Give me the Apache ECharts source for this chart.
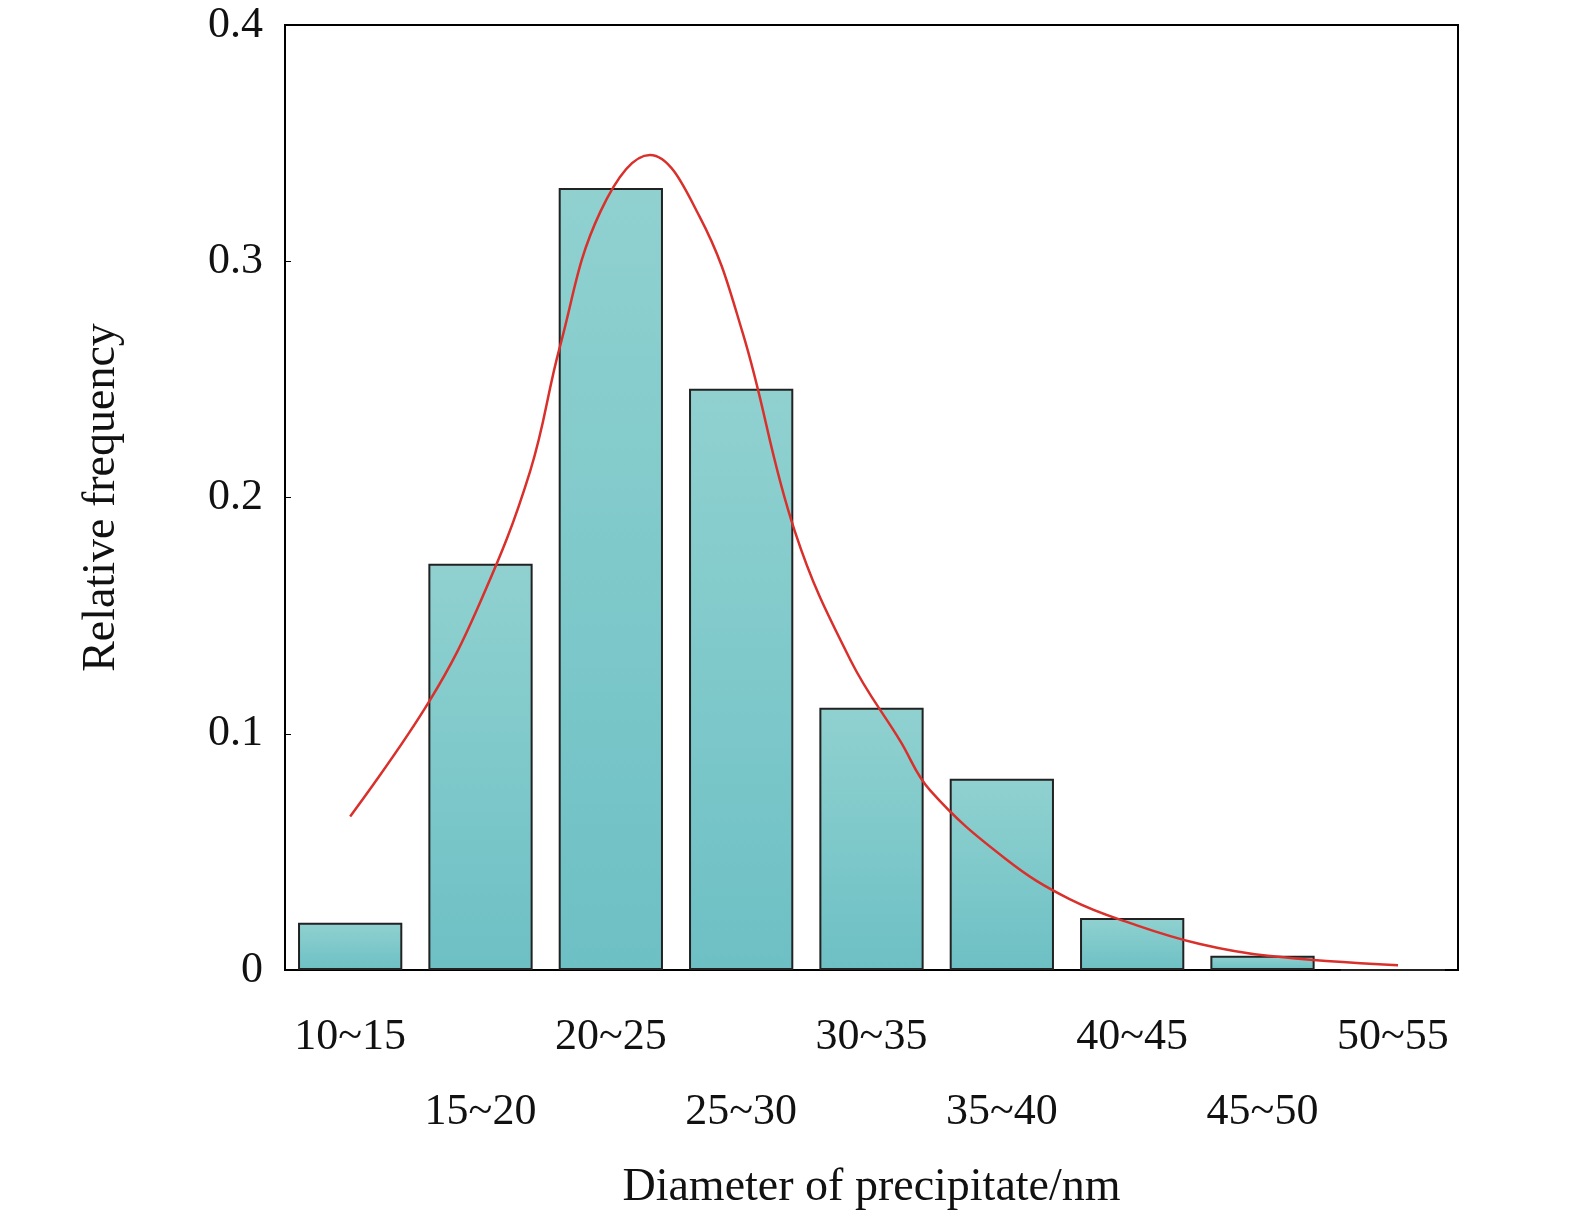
<!DOCTYPE html>
<html>
<head>
<meta charset="utf-8">
<script src="https://cdn.jsdelivr.net/npm/echarts@6/dist/echarts.min.js"></script>
<style>html,body{margin:0;padding:0;background:#fff}</style>
</head>
<body>
<div id="chart" style="width:1575px;height:1219px"></div>
<script>
// categories and bar heights
const categories = ['10~15','15~20','20~25','25~30','30~35','35~40','40~45','45~50','50~55'];
const frequency = [0.02, 0.172, 0.331, 0.246, 0.111, 0.081, 0.022, 0.006, 0];
// fitted curve, x in category units (0 = left edge)
const curveX = [0.5, 1.11, 1.5, 1.88, 2.11, 2.42, 2.8, 3.18, 3.51, 3.91, 4.34, 4.72, 4.95, 5.53, 6.02, 6.53, 7.02, 7.54, 8.54];
const curveY = [0.065, 0.114, 0.156, 0.211, 0.264, 0.321, 0.345, 0.319, 0.27, 0.186, 0.131, 0.097, 0.076, 0.047, 0.03, 0.019, 0.011, 0.006, 0.002];

const font = 'Liberation Serif';
const chart = echarts.init(document.getElementById('chart'));
chart.setOption({
  animation: false,
  grid: {left: 285, right: 117, top: 25, bottom: 249, show: true, borderColor: '#000', borderWidth: 2},
  xAxis: [{
    type: 'category',
    data: categories,
    name: 'Diameter of precipitate/nm',
    nameLocation: 'middle',
    nameGap: 195,
    nameTextStyle: {fontFamily: font, fontSize: 46, color: '#111'},
    axisLine: {lineStyle: {color: '#000', width: 2}},
    axisTick: {show: false},
    axisLabel: {
      fontFamily: font, fontSize: 44, color: '#111', margin: 30, interval: 0, lineHeight: 75,
      formatter: function (v, i) { return i % 2 ? '\n' + v : v; }
    }
  }, {
    type: 'value', min: 0, max: 9, show: false
  }],
  yAxis: {
    type: 'value', min: 0, max: 0.4, interval: 0.1,
    name: 'Relative frequency',
    nameLocation: 'middle',
    nameGap: 160,
    nameTextStyle: {fontFamily: font, fontSize: 46, color: '#111'},
    axisLine: {show: true, lineStyle: {color: '#000', width: 2}},
    axisTick: {show: true, inside: true, length: 6, lineStyle: {color: '#000'}},
    splitLine: {show: false},
    axisLabel: {fontFamily: font, fontSize: 44, color: '#111', margin: 22,
      formatter: v => v === 0 ? '0' : v.toFixed(1)}
  },
  series: [{
    type: 'bar',
    data: frequency,
    barWidth: '80%',
    itemStyle: {
      borderColor: '#222', borderWidth: 2,
      color: new echarts.graphic.LinearGradient(0, 0, 0, 1, [
        {offset: 0, color: '#90d1d0'}, {offset: 1, color: '#6dc0c4'}
      ])
    }
  }, {
    type: 'line',
    xAxisIndex: 1,
    data: curveX.map((x, i) => [x, curveY[i]]),
    smooth: 0.4,
    symbol: 'none',
    lineStyle: {color: '#d9302c', width: 2.5}
  }]
});
</script>
</body>
</html>
